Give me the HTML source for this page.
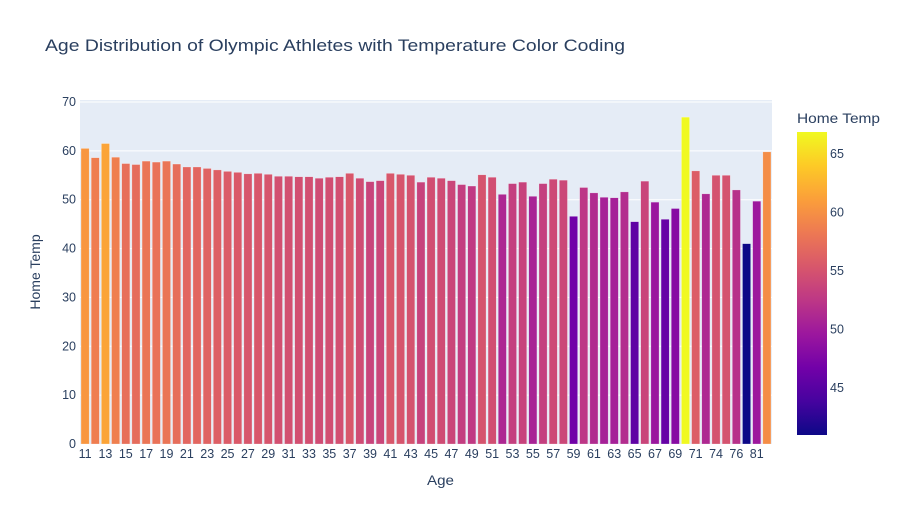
<!DOCTYPE html>
<html><head><meta charset="utf-8"><style>
body{margin:0;background:#fff;font-family:"Liberation Sans",sans-serif;}
svg text{font-family:"Liberation Sans",sans-serif;fill:#2a3f5f;}
</style></head><body>
<svg id="chart" width="902" height="525">
<defs><linearGradient id="plasma" x1="0" y1="1" x2="0" y2="0">
<stop offset="0" stop-color="#0d0887"/><stop offset="0.111" stop-color="#46039f"/><stop offset="0.222" stop-color="#7201a8"/><stop offset="0.333" stop-color="#9c179e"/><stop offset="0.444" stop-color="#bd3786"/><stop offset="0.556" stop-color="#d8576b"/><stop offset="0.667" stop-color="#ed7953"/><stop offset="0.778" stop-color="#fb9f3a"/><stop offset="0.889" stop-color="#fdca26"/><stop offset="1" stop-color="#f0f921"/>
</linearGradient></defs>
<text x="45" y="51" font-size="17" textLength="580" lengthAdjust="spacingAndGlyphs">Age Distribution of Olympic Athletes with Temperature Color Coding</text>
<rect x="80" y="100" width="692" height="344" fill="#e5ecf6"/>
<g id="grid"></g><g id="bars"></g><g id="xt"></g><g id="yt"></g>
<text x="427" y="485" font-size="14" textLength="27" lengthAdjust="spacingAndGlyphs">Age</text>
<text transform="translate(40,272) rotate(-90)" font-size="14" text-anchor="middle">Home Temp</text>
<text x="797" y="123" font-size="14" textLength="83" lengthAdjust="spacingAndGlyphs">Home Temp</text>
<rect x="797" y="132" width="30" height="303" fill="url(#plasma)"/>
<g id="cbt"></g>
</svg>
<script>
const ages=[11,12,13,14,15,16,17,18,19,20,21,22,23,24,25,26,27,28,29,30,31,32,33,34,35,36,37,38,39,40,41,42,43,44,45,46,47,48,49,50,51,52,53,54,55,56,57,58,59,60,61,62,63,64,65,66,67,68,69,70,71,72,74,75,76,77,81,84];
const temps=[60.5,58.6,61.5,58.7,57.4,57.2,57.9,57.7,57.9,57.3,56.7,56.7,56.4,56.1,55.8,55.6,55.3,55.4,55.2,54.8,54.8,54.7,54.7,54.4,54.6,54.7,55.4,54.4,53.7,53.9,55.4,55.2,55.0,53.6,54.6,54.4,53.9,53.1,52.8,55.1,54.6,51.1,53.3,53.6,50.7,53.3,54.2,54.0,46.6,52.5,51.4,50.5,50.4,51.6,45.5,53.8,49.5,46.0,48.2,66.9,55.9,51.2,55.0,55.0,52.0,41.0,49.7,59.8];
const yTicks=[0,10,20,30,40,50,60,70];
const cbTicks=[45,50,55,60,65];
const NS="http://www.w3.org/2000/svg";
const x0=80,pw=692,y0=444,ppu=342/70;
const band=pw/ages.length;
const yS=v=>y0-v*ppu;
const cmin=Math.min(...temps),cmax=Math.max(...temps);
const cbY=v=>435-(v-cmin)/(cmax-cmin)*303;
const stops=["#0d0887","#46039f","#7201a8","#9c179e","#bd3786","#d8576b","#ed7953","#fb9f3a","#fdca26","#f0f921"];
function hex(h){return [1,3,5].map(i=>parseInt(h.substr(i,2),16));}
function col(v){let t=(v-cmin)/(cmax-cmin)*(stops.length-1);let i=Math.min(Math.floor(t),stops.length-2),f=t-i;const a=hex(stops[i]),b=hex(stops[i+1]);return "rgb("+a.map((c,k)=>Math.round(c+(b[k]-c)*f)).join(",")+")";}
function mk(tag,at,parent,txt){const e=document.createElementNS(NS,tag);for(const k in at)e.setAttribute(k,at[k]);if(txt!==undefined)e.textContent=txt;document.getElementById(parent).appendChild(e);return e;}
yTicks.forEach(v=>{
 if(v>0){const g=mk("line",{x1:x0,x2:x0+pw,y1:yS(v),y2:yS(v),stroke:"#fff","stroke-width":1},"grid");
 
 }
 const t=mk("text",{x:76,y:yS(v)+4,"font-size":12.5,"text-anchor":"end"},"yt",v);
 
 
});
ages.forEach((a,i)=>{
 const w=band*0.8,x=x0+i*band+band*0.1;
 const r=mk("rect",{x:x,y:yS(temps[i]),width:w,height:y0-yS(temps[i]),fill:col(temps[i]),stroke:"rgba(255,255,255,0.5)","stroke-width":0.5},"bars");
 
 
 if(i%2===0){const t=mk("text",{x:x0+(i+0.5)*band,y:458,"font-size":12.5,"text-anchor":"middle"},"xt",a);
 
 }
});
cbTicks.forEach(v=>{
 const t=mk("text",{x:830,y:cbY(v)+4,"font-size":12.5},"cbt",v);
 
 
});
</script>
</body></html>
